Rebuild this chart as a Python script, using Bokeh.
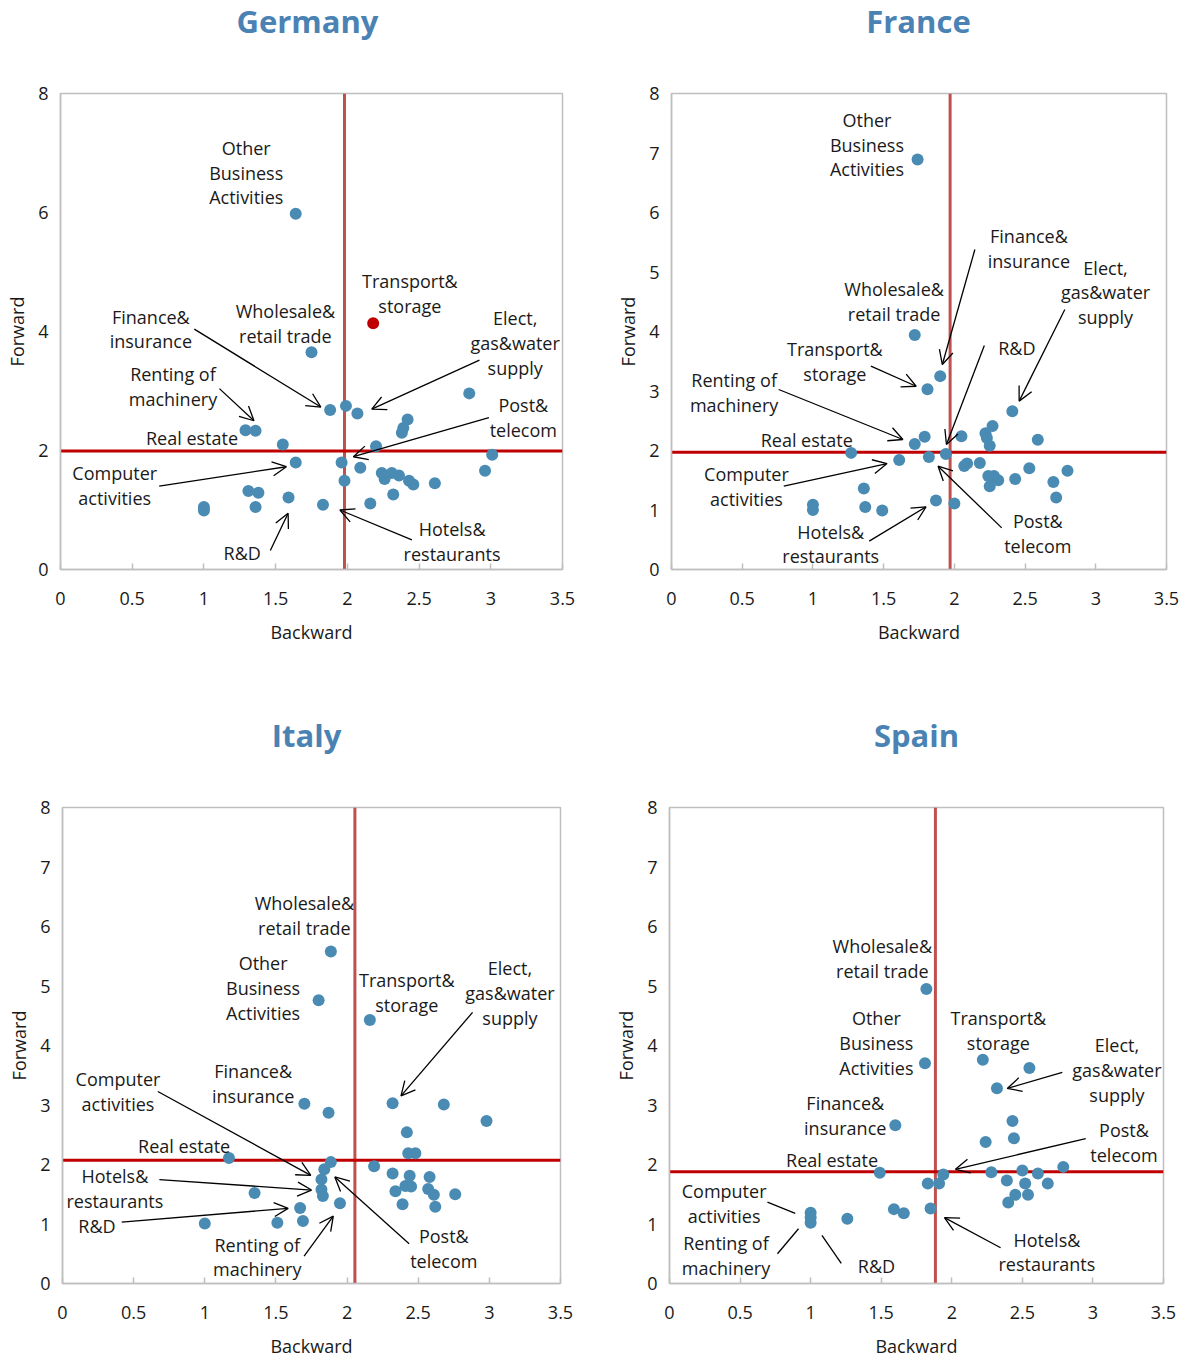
from bokeh.plotting import figure
from bokeh.models import (Span, Arrow, OpenHead, FixedTicker, ColumnDataSource,
                          NumeralTickFormatter, Range1d)
from bokeh.layouts import column, row
from bokeh.embed import file_html
from bokeh.resources import INLINE
from bokeh.core.properties import value

# ---------------- data: backward / forward linkages by sector ----------------
de_backward = [1.64, 2.18, 1.75, 1.88, 1.99, 2.07, 2.85, 2.42, 2.39, 2.38, 1.29, 1.36,
               1.55, 2.20, 3.01, 1.64, 1.96, 2.09, 2.24, 2.26, 2.31, 2.36, 2.43, 2.46,
               2.61, 2.96, 1.98, 2.32, 2.16, 1.83, 1.59, 1.31, 1.38, 1.36, 1.00, 1.00]
de_forward = [5.98, 4.14, 3.65, 2.68, 2.75, 2.62, 2.96, 2.52, 2.38, 2.30, 2.34, 2.33,
              2.10, 2.07, 1.93, 1.80, 1.80, 1.71, 1.62, 1.52, 1.62, 1.58, 1.49, 1.43,
              1.45, 1.66, 1.49, 1.26, 1.11, 1.09, 1.21, 1.32, 1.29, 1.05, 1.05, 0.99]
de_highlight = [1]  # Transport & storage

fr_backward = [1.74, 1.72, 1.90, 1.81, 2.41, 2.27, 2.22, 2.23, 2.25, 2.05, 2.59, 1.79,
               1.72, 1.27, 1.94, 1.61, 1.82, 2.18, 2.07, 2.09, 2.53, 2.80, 2.24, 2.28,
               2.31, 2.25, 2.43, 2.70, 2.72, 1.36, 1.37, 1.49, 1.00, 1.00, 1.87, 2.00]
fr_forward = [6.89, 3.94, 3.25, 3.03, 2.66, 2.41, 2.29, 2.21, 2.08, 2.24, 2.18, 2.23,
              2.11, 1.96, 1.94, 1.84, 1.89, 1.79, 1.74, 1.78, 1.70, 1.66, 1.57, 1.57,
              1.50, 1.40, 1.52, 1.47, 1.21, 1.36, 1.05, 0.99, 1.09, 1.00, 1.16, 1.11]

it_backward = [1.886, 1.80, 2.16, 2.32, 2.68, 2.98, 1.70, 1.87, 2.42, 2.43, 2.48, 1.17,
               1.886, 1.84, 2.19, 2.32, 2.44, 2.58, 1.82, 2.41, 2.45, 2.34, 2.57, 2.61,
               2.76, 1.82, 1.83, 1.35, 1.95, 2.39, 2.62, 1.67, 1.69, 1.51, 1.00]
it_forward = [5.58, 4.76, 4.43, 3.03, 3.01, 2.73, 3.02, 2.87, 2.54, 2.19, 2.19, 2.11,
              2.04, 1.92, 1.97, 1.85, 1.81, 1.79, 1.75, 1.64, 1.63, 1.55, 1.59, 1.49,
              1.50, 1.58, 1.47, 1.52, 1.35, 1.33, 1.29, 1.27, 1.05, 1.02, 1.01]

es_backward = [1.82, 1.81, 2.22, 2.55, 2.32, 1.60, 2.43, 2.44, 2.24, 1.49, 1.94, 2.28,
               2.50, 2.61, 2.79, 1.83, 1.91, 2.39, 2.52, 2.68, 2.45, 2.54, 2.40, 1.59,
               1.66, 1.85, 1.26, 1.00, 1.00, 1.00]
es_forward = [4.95, 3.70, 3.76, 3.62, 3.28, 2.66, 2.73, 2.44, 2.38, 1.86, 1.83, 1.87,
              1.90, 1.85, 1.96, 1.68, 1.68, 1.73, 1.68, 1.68, 1.49, 1.49, 1.36, 1.25,
              1.18, 1.26, 1.09, 1.19, 1.11, 1.02]

# averages drawn as the quadrant dividers (backward, forward)
avg = {
    "Germany": (1.98, 1.99),
    "France": (1.97, 1.97),
    "Italy": (2.055, 2.07),
    "Spain": (1.884, 1.88),
}

x_ticks = [0, 0.5, 1, 1.5, 2, 2.5, 3, 3.5]

# ---------------- annotation layout (text position, arrows, leader lines) ----
de_labels = [
    ("Other\nBusiness\nActivities", 1.295, 6.67),
    ("Transport&\nstorage", 2.436, 4.64),
    ("Finance&\ninsurance", 0.63, 4.04),
    ("Wholesale&\nretail trade", 1.568, 4.13),
    ("Elect,\ngas&water\nsupply", 3.17, 3.81),
    ("Renting of\nmachinery", 0.784, 3.07),
    ("Post&\ntelecom", 3.227, 2.55),
    ("Real estate", 0.917, 2.21),
    ("Computer\nactivities", 0.378, 1.41),
    ("Hotels&\nrestaurants", 2.73, 0.47),
    ("R&D", 1.267, 0.285),
]
de_arrows = [
    (0.933, 4.04, 1.815, 2.73),
    (1.108, 3.04, 1.349, 2.50),
    (2.921, 3.52, 2.17, 2.695),
    (2.987, 2.554, 2.042, 1.895),
    (0.688, 1.40, 1.575, 1.727),
    (1.463, 0.319, 1.587, 0.944),
    (2.45, 0.498, 1.948, 1.00),
]

fr_labels = [
    ("Other\nBusiness\nActivities", 1.382, 7.14),
    ("Finance&\ninsurance", 2.527, 5.39),
    ("Elect,\ngas&water\nsupply", 3.069, 4.66),
    ("Wholesale&\nretail trade", 1.574, 4.50),
    ("Transport&\nstorage", 1.155, 3.50),
    ("R&D", 2.442, 3.73),
    ("Renting of\nmachinery", 0.443, 2.98),
    ("Real estate", 0.956, 2.17),
    ("Computer\nactivities", 0.53, 1.39),
    ("Hotels&\nrestaurants", 1.126, 0.43),
    ("Post&\ntelecom", 2.59, 0.60),
]
fr_arrows = [
    (2.145, 5.378, 1.915, 3.445),
    (2.781, 4.37, 2.458, 2.83),
    (2.212, 3.765, 1.944, 2.10),
    (1.41, 3.417, 1.73, 3.08),
    (0.758, 3.025, 1.636, 2.185),
    (0.794, 1.40, 1.524, 1.78),
    (1.398, 0.476, 1.80, 1.054),
    (2.335, 0.70, 1.885, 1.736),
]

it_labels = [
    ("Wholesale&\nretail trade", 1.70, 6.19),
    ("Other\nBusiness\nActivities", 1.41, 4.97),
    ("Transport&\nstorage", 2.42, 4.89),
    ("Elect,\ngas&water\nsupply", 3.145, 4.88),
    ("Computer\nactivities", 0.39, 3.23),
    ("Finance&\ninsurance", 1.34, 3.36),
    ("Real estate", 0.855, 2.31),
    ("Hotels&\nrestaurants", 0.368, 1.60),
    ("R&D", 0.242, 0.96),
    ("Renting of\nmachinery", 1.369, 0.446),
    ("Post&\ntelecom", 2.68, 0.59),
]
it_arrows = [
    (2.882, 4.557, 2.379, 3.153),
    (0.67, 3.227, 1.745, 1.818),
    (0.681, 1.746, 1.75, 1.571),
    (0.416, 1.032, 1.586, 1.263),
    (1.698, 0.46, 1.903, 1.133),
    (2.436, 0.668, 1.914, 1.79),
]

es_labels = [
    ("Wholesale&\nretail trade", 1.508, 5.46),
    ("Other\nBusiness\nActivities", 1.466, 4.04),
    ("Transport&\nstorage", 2.33, 4.25),
    ("Elect,\ngas&water\nsupply", 3.17, 3.586),
    ("Finance&\ninsurance", 1.245, 2.82),
    ("Post&\ntelecom", 3.22, 2.37),
    ("Real estate", 1.152, 2.07),
    ("Computer\nactivities", 0.387, 1.347),
    ("Renting of\nmachinery", 0.40, 0.471),
    ("R&D", 1.466, 0.286),
    ("Hotels&\nrestaurants", 2.674, 0.53),
]
es_arrows = [
    (2.783, 3.547, 2.393, 3.278),
    (2.949, 2.436, 2.026, 1.919),
    (2.346, 0.60, 1.948, 1.106),
]
es_leaders = [
    (0.694, 1.369, 0.891, 1.178),
    (0.765, 0.50, 0.914, 0.92),
    (1.217, 0.337, 1.08, 0.808),
]

# ---------------- styling ----------------
FONT = "Open Sans"
TITLE_COLOR = "#4A82B4"
POINT_COLOR = "#4A8BB3"
HIGHLIGHT_COLOR = "#C00000"
VLINE_COLOR = "#C0504D"
HLINE_COLOR = "#C00000"
FRAME_COLOR = "#BFBFBF"
TEXT_COLOR = "#1A1A1A"
COL_W = 597


def heading(name, height, cx, mid_from_top):
    """A strip holding a panel's country name; its ranges are in pixels."""
    t = figure(width=COL_W, height=height, output_backend="svg",
               toolbar_location=None, title_location=None,
               x_axis_type=None, y_axis_type=None,
               x_range=Range1d(0, COL_W), y_range=Range1d(0, height), min_border=0)
    t.outline_line_color = None
    t.grid.visible = False
    t.text([cx], [height - mid_from_top], text=[name], text_align="center",
           text_baseline="middle", text_font=value(FONT), text_font_size="31px",
           text_font_style="bold", text_color=TITLE_COLOR)
    return t


def panel(name, bx, fw, labels, arrows, y_ticks, height, borders,
          leaders=None, highlight=()):
    left, right, top, bottom = borders
    p = figure(width=COL_W, height=height, output_backend="svg", toolbar_location=None,
               title_location=None,
               x_range=Range1d(0, 3.5), y_range=Range1d(0, 8),
               min_border_left=left, min_border_right=right,
               min_border_top=top, min_border_bottom=bottom)

    p.grid.visible = False
    p.outline_line_color = FRAME_COLOR
    p.outline_line_width = 1.5
    p.background_fill_color = "white"
    p.border_fill_color = "white"

    for ax in (p.xaxis[0], p.yaxis[0]):
        ax.axis_line_color = FRAME_COLOR
        ax.axis_line_width = 1.5
        ax.major_tick_line_color = FRAME_COLOR
        ax.major_tick_line_width = 1.5
        ax.minor_tick_line_color = None
        ax.major_label_text_font = FONT
        ax.major_label_text_font_size = "18px"
        ax.major_label_text_color = TEXT_COLOR
        ax.axis_label_text_font = FONT
        ax.axis_label_text_font_size = "18px"
        ax.axis_label_text_font_style = "normal"
        ax.axis_label_text_color = TEXT_COLOR

    p.xaxis.axis_label = "Backward"
    p.xaxis.ticker = FixedTicker(ticks=x_ticks)
    p.xaxis.formatter = NumeralTickFormatter(format="0.[0]")
    p.xaxis.major_tick_in = 6
    p.xaxis.major_tick_out = 0
    p.xaxis.major_label_standoff = 22
    p.xaxis.axis_label_standoff = 12

    p.yaxis.axis_label = "Forward"
    p.yaxis.ticker = FixedTicker(ticks=y_ticks)
    p.yaxis.major_tick_in = 0
    p.yaxis.major_tick_out = 0
    p.yaxis.major_label_standoff = 12
    p.yaxis.axis_label_standoff = 6

    avg_b, avg_f = avg[name]
    p.add_layout(Span(location=avg_b, dimension="height", line_color=VLINE_COLOR,
                      line_width=3, level="underlay"))
    p.add_layout(Span(location=avg_f, dimension="width", line_color=HLINE_COLOR,
                      line_width=3, level="underlay"))

    colors = [HIGHLIGHT_COLOR if i in highlight else POINT_COLOR for i in range(len(bx))]
    pts = ColumnDataSource(dict(x=bx, y=fw, c=colors))
    p.scatter("x", "y", source=pts, size=12, fill_color="c", line_color=None)

    lab = ColumnDataSource(dict(text=[t for t, _, _ in labels],
                                x=[x for _, x, _ in labels],
                                y=[y for _, _, y in labels]))
    p.text("x", "y", text="text", source=lab, text_align="center",
           text_baseline="middle", text_font=value(FONT), text_font_size="18px",
           text_color=TEXT_COLOR, text_line_height=1.03)

    arr = ColumnDataSource(dict(x0=[a[0] for a in arrows], y0=[a[1] for a in arrows],
                                x1=[a[2] for a in arrows], y1=[a[3] for a in arrows]))
    p.add_layout(Arrow(source=arr, x_start="x0", y_start="y0", x_end="x1", y_end="y1",
                       line_color="black", line_width=1.3,
                       end=OpenHead(size=14, line_color="black", line_width=1.3)))

    if leaders:
        p.segment([a[0] for a in leaders], [a[1] for a in leaders],
                  [a[2] for a in leaders], [a[3] for a in leaders],
                  line_color="black", line_width=1.3)
    return p


t_de = heading("Germany", 45, 307, 20)
t_fr = heading("France", 45, 321, 20)
t_it = heading("Italy", 70, 306, 44)
t_es = heading("Spain", 70, 319, 44)

p_de = panel("Germany", de_backward, de_forward, de_labels, de_arrows,
             [0, 2, 4, 6, 8], 645, (60, 35, 47, 121), highlight=de_highlight)
p_fr = panel("France", fr_backward, fr_forward, fr_labels, fr_arrows,
             list(range(9)), 645, (74, 28, 48, 121))
p_it = panel("Italy", it_backward, it_forward, it_labels, it_arrows,
             list(range(9)), 600, (62, 37, 47, 77))
p_es = panel("Spain", es_backward, es_forward, es_labels, es_arrows,
             list(range(9)), 600, (72, 31, 47, 77), leaders=es_leaders)

layout = column(row(t_de, t_fr), row(p_de, p_fr), row(t_it, t_es), row(p_it, p_es))
open("out.html", "w").write(file_html(layout, INLINE))
